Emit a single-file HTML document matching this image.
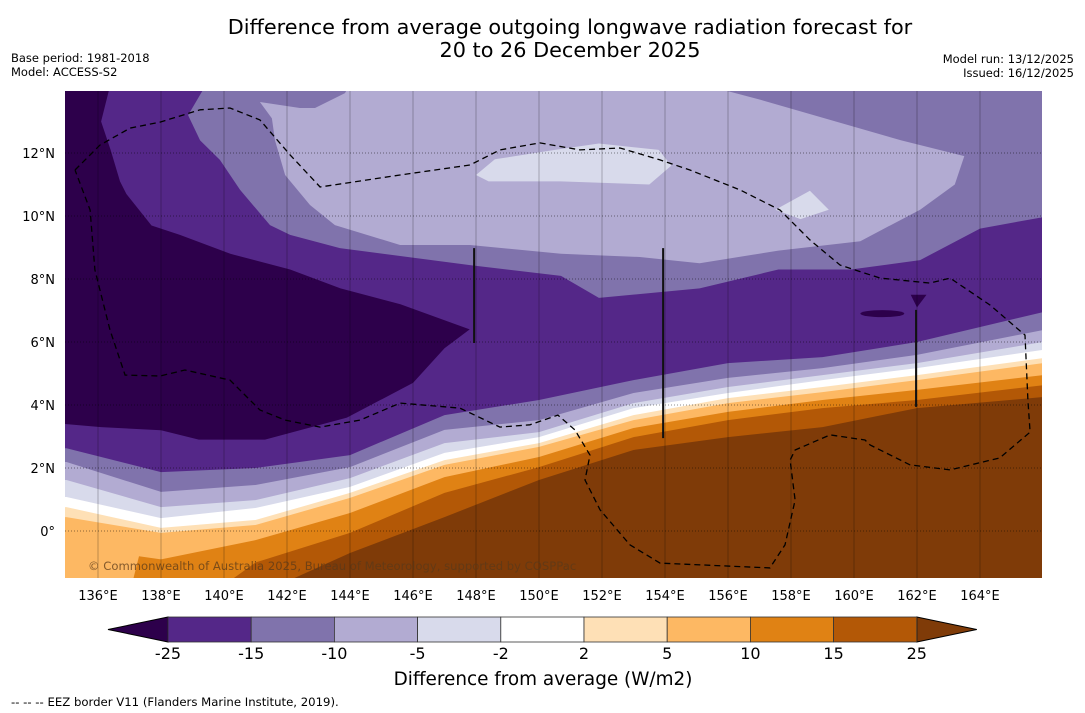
<!DOCTYPE html>
<html><head><meta charset="utf-8"><style>
html,body{margin:0;padding:0;background:#fff;}
svg{display:block;font-family:"DejaVu Sans","Liberation Sans",sans-serif;}
</style></head><body>
<svg id="chart" width="1085" height="713" viewBox="0 0 1085 713" xmlns="http://www.w3.org/2000/svg">
<text x="570" y="34" text-anchor="middle" font-size="20.8">Difference from average outgoing longwave radiation forecast for</text>
<text x="570" y="57" text-anchor="middle" font-size="20.8">20 to 26 December 2025</text>
<text x="11" y="62" font-size="11.5">Base period: 1981-2018</text>
<text x="11" y="76" font-size="11.5">Model: ACCESS-S2</text>
<text x="1074" y="63" text-anchor="end" font-size="11.5">Model run: 13/12/2025</text>
<text x="1074" y="77" text-anchor="end" font-size="11.5">Issued: 16/12/2025</text>
<defs><clipPath id="mapclip"><rect x="65" y="91" width="977" height="487"/></clipPath></defs>
<g id="map" clip-path="url(#mapclip)"></g>
<g id="axes"></g>
<g id="cbar"></g>
<text x="543" y="685" text-anchor="middle" font-size="18.4">Difference from average (W/m2)</text>
<text x="11" y="706" font-size="11.7">--  --  -- EEZ border V11 (Flanders Marine Institute, 2019).</text>
</svg>
<script>
// colour scale data
const levels = [-25,-15,-10,-5,-2,2,5,10,15,25];
const bandColors = ["#542788","#8073ac","#b2abd2","#d8daeb","#ffffff","#fee0b6","#fdb863","#e08214","#b35806"];
const underColor = "#2d004b";
const overColor = "#7f3b08";
// contour lines (southern gradient), latitude at each longitude
const lons = [135,138,141,144,147,150,153,156,159,162,166];
const cMinus15 = [2.63,1.87,2.0,2.41,3.68,4.16,4.79,5.33,5.52,6.0,6.95];
const cMinus10 = [2.19,1.24,1.46,2.03,3.21,3.52,4.38,4.86,5.17,5.59,6.38];
const cMinus5 = [1.62,0.76,0.98,1.68,2.79,3.14,4.06,4.57,4.95,5.33,6.0];
const cMinus2 = [1.08,0.41,0.73,1.40,2.48,2.98,3.90,4.38,4.79,5.17,5.75];
const cPlus2 = [0.76,0.10,0.35,1.21,2.25,2.79,3.68,4.22,4.57,4.95,5.49];
const cPlus5 = [0.44,-0.06,0.19,1.05,2.10,2.67,3.52,4.06,4.41,4.79,5.33];
const c10Lons = [135,137,137.3,138,141,144,147,150,153,156,159,162,166];
const cPlus10 = [-2.0,-2.0,-0.8,-0.9,-0.29,0.57,1.71,2.35,3.27,3.78,4.16,4.48,4.95];
const c15Lons = [135,138,140,140.3,141,144,147,150,153,156,159,162,166];
const cPlus15 = [-2,-2,-2,-1.5,-1.0,-0.06,1.21,2.03,2.98,3.52,3.90,4.16,4.63];
const c25Lons = [135,141,142,144,147,150,153,156,159,162,166];
const cPlus25 = [-2,-2,-1.6,-0.7,0.44,1.62,2.57,2.98,3.30,3.90,4.25];
// northern structures as [lon,lat]
const north15 = [[139.33,14.2],[139.33,14.0],[138.86,13.2],[139.24,12.4],[139.87,11.78],[140.51,10.83],[141.46,9.71],[142.1,9.4],[143.68,8.98],[145.59,8.73],[147.81,8.44],[150.7,8.1],[151.9,7.4],[155.1,7.7],[157.6,8.3],[159.9,8.3],[162.1,8.6],[164.0,9.6],[166.2,10.0],[166.2,14.2]];
const north10 = [[141.14,13.62],[142.41,13.43],[142.89,13.43],[143.84,13.9],[144.0,14.2],[155.1,14.2],[157.0,13.7],[161.5,12.4],[163.5,11.9],[163.2,11.0],[162.1,10.2],[160.2,9.2],[157.6,8.9],[155.1,8.5],[153.2,8.7],[150.7,8.8],[147.81,9.08],[145.59,9.08],[143.52,9.71],[142.73,10.35],[141.94,11.3],[141.62,12.4],[141.52,13.1]];
const patchA = [[148.0,11.3],[148.6,11.8],[150.5,12.1],[151.9,12.3],[153.8,12.1],[154.2,11.6],[153.5,11.0],[150.7,11.1],[148.4,11.1]];
const patchB = [[157.5,10.2],[158.6,10.8],[159.2,10.2],[158.3,9.9]];
const darkCore = [[134.9,14.2],[136.4,14.2],[136.1,13.0],[136.4,12.1],[136.7,11.1],[136.9,10.7],[137.7,9.7],[138.6,9.4],[140.2,8.8],[142.1,8.3],[143.7,7.7],[145.6,7.2],[147.8,6.4],[147.0,5.8],[146.0,4.7],[143.9,3.6],[141.3,2.9],[139.2,2.9],[138.0,3.2],[136.1,3.3],[134.9,3.4]];
const darkSpot = [[161.8,7.5],[162.3,7.5],[162.0,7.1]];
const eez = [[135.27,11.46],[136.06,12.25],[137.02,12.79],[137.97,12.98],[139.24,13.37],[140.19,13.43],[141.14,13.05],[142.10,11.94],[143.05,10.92],[145.59,11.30],[147.81,11.62],[148.76,12.10],[150.03,12.32],[151.30,12.10],[152.57,12.16],[153.84,11.78],[154.79,11.46],[156.38,10.83],[157.65,10.19],[158.60,9.24],[159.56,8.44],[160.83,8.03],[162.41,7.87],[163.05,8.03],[164.32,7.17],[165.43,6.22],[165.52,4.16],[165.59,3.14],[164.63,2.32],[163.05,1.94],[161.78,2.10],[160.51,2.73],[160.35,2.89],[159.24,3.05],[158.13,2.57],[157.97,2.25],[158.13,0.98],[157.81,-0.44],[157.33,-1.17],[153.84,-1.02],[152.89,-0.44],[151.94,0.67],[151.46,1.62],[151.62,2.41],[151.14,3.21],[150.60,3.68],[149.71,3.37],[148.76,3.30],[147.49,3.90],[145.59,4.06],[144.32,3.52],[143.05,3.30],[141.94,3.52],[141.14,3.84],[140.19,4.79],[138.76,5.11],[137.97,4.92],[136.86,4.95],[136.38,6.38],[135.90,8.29],[135.75,10.19],[135.27,11.46]];
const seams = [[147.94,8.98,5.97],[153.94,8.98,2.95],[161.97,7.02,3.94]];
const lonTicks = [136,138,140,142,144,146,148,150,152,154,156,158,160,162,164];
const latTicks = [0,2,4,6,8,10,12];

const NS="http://www.w3.org/2000/svg";
const X = lon => 66.5 + (lon-135)*31.5;
const Y = lat => 531 - lat*31.5;
function mk(tag, parent, attrs){const e=document.createElementNS(NS,tag);for(const k in attrs)e.setAttribute(k,attrs[k]);parent.appendChild(e);return e;}
const map=document.getElementById('map');
const bg=mk('rect',map,{x:60,y:85,width:990,height:500,fill:overColor});


function northOf(lonArr, latArr){
  let pts=lonArr.map((l,i)=>X(l).toFixed(1)+','+Y(latArr[i]).toFixed(1));
  pts.push(X(167)+','+Y(latArr[latArr.length-1]),X(167)+','+Y(15),X(134)+','+Y(15),X(134)+','+Y(latArr[0]));
  return pts.join(' ');
}
const southContours=[[c25Lons,cPlus25,8],[c15Lons,cPlus15,7],[c10Lons,cPlus10,6],[lons,cPlus5,5],[lons,cPlus2,4],[lons,cMinus2,3],[lons,cMinus5,2],[lons,cMinus10,1],[lons,cMinus15,0]];
southContours.forEach(c=>{
  const p=mk('polygon',map,{points:northOf(c[0],c[1]),fill:bandColors[c[2]]});
  
  
});
function poly(arr,fill,name){
  const p=mk('polygon',map,{points:arr.map(q=>X(q[0]).toFixed(1)+','+Y(q[1]).toFixed(1)).join(' '),fill:fill});
  
  
}
poly(north15,bandColors[1],'north-band-minus15');
poly(north10,bandColors[2],'north-band-minus10');
poly(patchA,bandColors[3],'north-patch-minus5');
poly(patchB,bandColors[3],'north-patch-minus5-small');
poly(darkCore,underColor,'band-below-minus25');
poly(darkSpot,underColor,'dark-spot');
const el=mk('ellipse',map,{cx:X(160.9),cy:Y(6.9),rx:22,ry:3.5,fill:underColor});


// gridlines
lonTicks.forEach(l=>{const g=mk('line',map,{x1:X(l),x2:X(l),y1:91,y2:578,stroke:'#000','stroke-opacity':0.25,'stroke-width':1});

});
latTicks.forEach(l=>{const g=mk('line',map,{x1:65,x2:1042,y1:Y(l),y2:Y(l),stroke:'#000','stroke-opacity':0.45,'stroke-width':1,'stroke-dasharray':'1,2'});

});
seams.forEach(s=>{const g=mk('line',map,{x1:X(s[0]),x2:X(s[0]),y1:Y(s[1]),y2:Y(s[2]),stroke:'#111','stroke-width':2});

});
const ez=mk('polyline',map,{points:eez.map(q=>X(q[0]).toFixed(1)+','+Y(q[1]).toFixed(1)).join(' '),fill:'none',stroke:'#000','stroke-width':1.3,'stroke-dasharray':'6,4'});


const cp=mk('text',map,{x:88,y:570,'font-size':11.6,fill:'#5a3a1a','fill-opacity':0.75});
cp.textContent='© Commonwealth of Australia 2025, Bureau of Meteorology, supported by COSPPac';


// axis labels
const axes=document.getElementById('axes');
lonTicks.forEach(l=>{const t=mk('text',axes,{x:X(l),y:600,'text-anchor':'middle','font-size':13});t.textContent=l+'°E';

});
latTicks.forEach(l=>{const t=mk('text',axes,{x:55,y:Y(l)+5,'text-anchor':'end','font-size':13});t.textContent=l===0?'0°':l+'°N';

});
// colorbar
const cb=document.getElementById('cbar');
const cx0=168,cw=83.2,cy=617,ch=25;
const tl=mk('polygon',cb,{points:`108,${cy+ch/2} ${cx0},${cy} ${cx0},${cy+ch}`,fill:underColor,stroke:'#000','stroke-width':1});


const xe=cx0+cw*bandColors.length;
const tr=mk('polygon',cb,{points:`${xe+60},${cy+ch/2} ${xe},${cy} ${xe},${cy+ch}`,fill:overColor,stroke:'#000','stroke-width':1});


bandColors.forEach((c,i)=>{const r=mk('rect',cb,{x:cx0+i*cw,y:cy,width:cw,height:ch,fill:c,stroke:'#333','stroke-width':0.8});

});
levels.forEach((v,i)=>{const t=mk('text',cb,{x:cx0+i*cw,y:659,'text-anchor':'middle','font-size':16});t.textContent=v;

});
</script>
</body></html>
